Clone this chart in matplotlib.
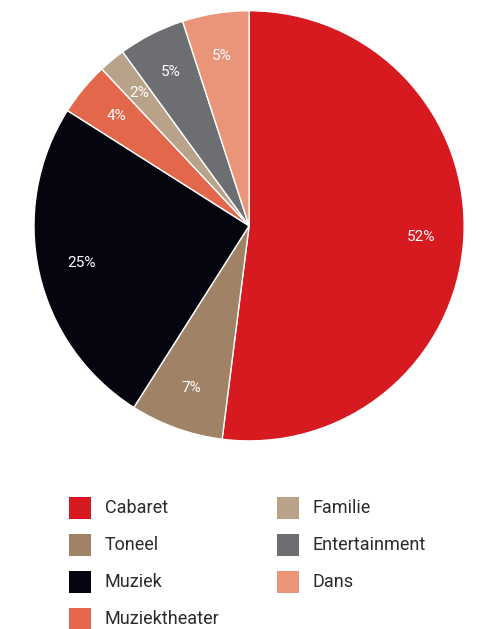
import matplotlib
matplotlib.use('Agg')
import matplotlib.pyplot as plt
from matplotlib.patches import Rectangle

plt.rcParams['font.family'] = ['Roboto', 'DejaVu Sans']

labels = ['Cabaret', 'Toneel', 'Muziek', 'Muziektheater', 'Familie', 'Entertainment', 'Dans']
values = [52, 7, 25, 4, 2, 5, 5]
colors = ['#D71920', '#A08366', '#050510', '#E2674B', '#B8A38A', '#6D6E71', '#EA9479']

fig = plt.figure(figsize=(4.78, 6.29), dpi=100)
ax = fig.add_axes([0.0711, 0.299, 0.90, 0.684])

wedges, texts, autotexts = ax.pie(values, colors=colors, startangle=90, counterclock=False,
                                  autopct='%d%%', pctdistance=0.8, radius=1,
                                  wedgeprops=dict(edgecolor='white', linewidth=1),
                                  textprops=dict(color='white', fontsize=11))
ax.set_xlim(-1, 1)
ax.set_ylim(-1, 1)
ax.set_aspect('equal')

# legend, two columns
W, H = 478, 629
rows = [508, 545, 582, 619]
for i, (lab, col) in enumerate(zip(labels, colors)):
    c = 0 if i < 4 else 1
    r = i if i < 4 else i - 4
    x0 = 69 if c == 0 else 277
    y = rows[r]
    fig.patches.append(Rectangle((x0 / W, 1 - (y + 11) / H), 22 / W, 22 / H,
                                 transform=fig.transFigure, facecolor=col, edgecolor='none'))
    fig.text((x0 + 36) / W, 1 - y / H, lab, fontsize=13, color='#2b2b2b', va='center', ha='left')

fig.savefig('out.png', dpi=100)
